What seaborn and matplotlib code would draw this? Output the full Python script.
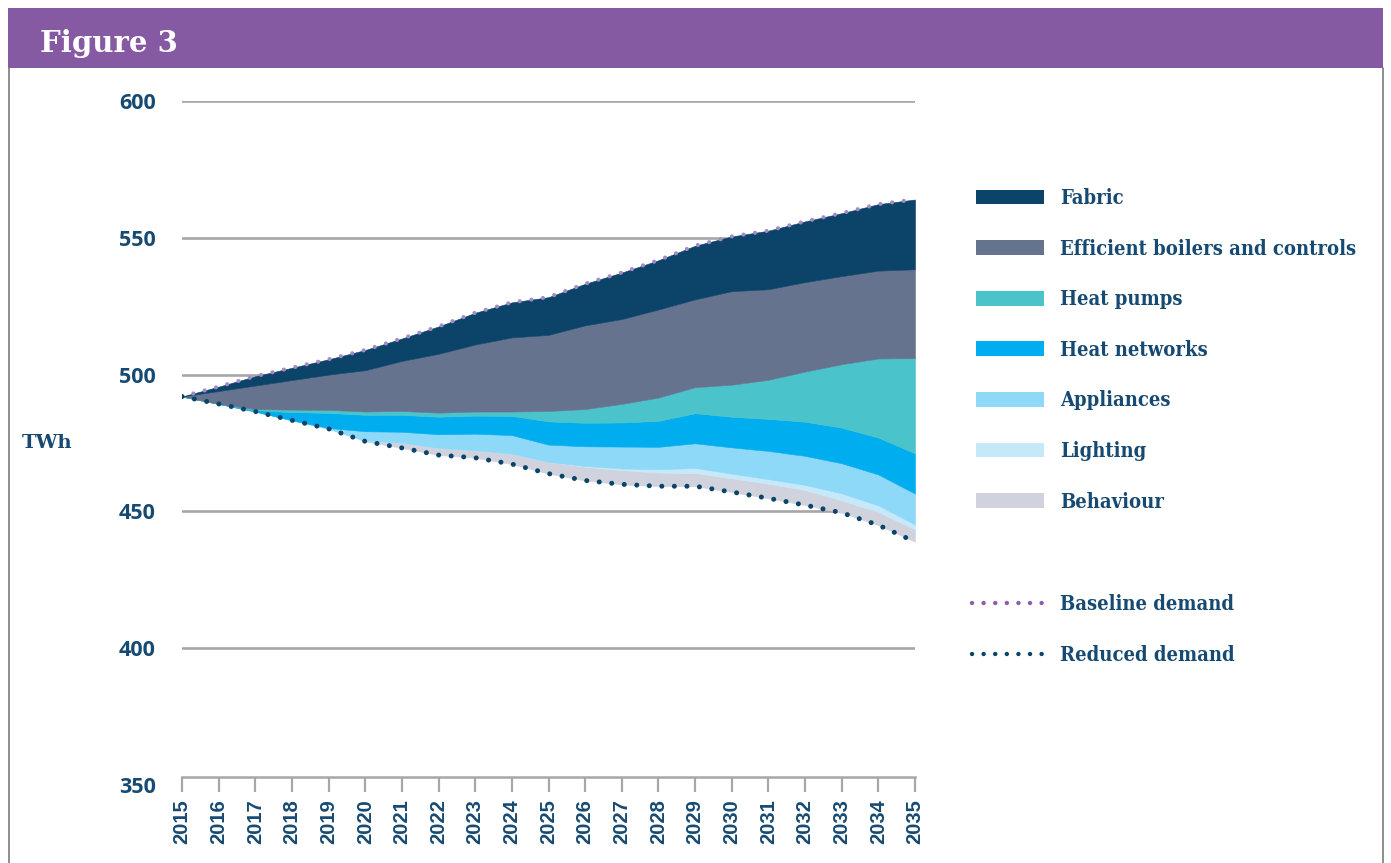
import matplotlib
matplotlib.use('Agg')
import matplotlib.pyplot as plt
import seaborn as sns
from matplotlib.patches import Patch, Rectangle
from matplotlib.lines import Line2D

# data (TWh)
years = list(range(2015, 2036))
baseline = [492.0, 495.6, 499.4, 502.5, 505.6, 509.0, 513.2, 517.6, 522.6, 526.4, 528.3,
            533.2, 537.3, 541.8, 547.1, 550.5, 552.6, 556.0, 559.0, 562.3, 564.0]
reduced = [492.0, 489.3, 486.5, 483.3, 480.2, 475.6, 473.2, 470.6, 469.6, 467.3, 463.8,
           461.3, 459.9, 459.2, 459.2, 457.1, 454.8, 452.3, 449.5, 445.0, 438.9]

# savings per measure, stacked upward from reduced demand
behaviour = [0, 0, 0, 0, 0, 0.3, 1.9, 2.6, 2.8, 3.8, 4.3, 5.0, 5.2, 5.0, 4.8, 5.0, 5.3, 5.5, 4.5, 4.8, 4.5]
lighting = [0, 0, 0, 0, 0, 0, 0, 0, 0, 0, 0, 0.3, 0.6, 1.2, 1.9, 1.7, 1.7, 1.9, 2.6, 2.4, 1.8]
appliances = [0, 0, 0, 0, 0.3, 3.4, 4.0, 5.0, 6.0, 6.8, 6.3, 7.2, 8.0, 8.2, 9.0, 9.6, 10.3, 10.6, 11.0, 11.3, 11.3]
heat_networks = [0, 0, 0.5, 3.0, 5.5, 6.0, 6.2, 6.4, 6.6, 7.0, 8.5, 8.6, 8.8, 9.5, 11.0, 11.2, 11.7, 12.5, 13.0, 13.5, 14.7]
heat_pumps = [0, 0, 0.4, 0.9, 1.1, 1.2, 1.4, 1.5, 1.5, 1.6, 3.8, 5.0, 6.8, 8.5, 9.5, 11.7, 14.3, 18.3, 23.2, 28.9, 34.8]
boilers = [0, 4.7, 8.6, 10.8, 12.9, 15.1, 18.3, 21.5, 24.5, 27.1, 27.8, 30.6, 31.0, 32.2, 32.1, 34.2, 33.1, 32.7, 32.2, 32.1, 32.5]
fabric = [0, 1.6, 3.4, 4.5, 5.6, 7.4, 8.2, 10.0, 11.6, 12.8, 13.8, 15.2, 17.0, 18.0, 19.6, 20.0, 21.4, 22.2, 23.0, 24.3, 25.5]

area_labels = ['Fabric', 'Efficient boilers and controls', 'Heat pumps', 'Heat networks',
               'Appliances', 'Lighting', 'Behaviour']
area_colors = ['#0b4369', '#66738f', '#4bc3cb', '#00adee', '#8ed8f8', '#c6e9f9', '#d0d2de']

navy = '#0b4369'
text_col = '#174a72'
grid_col = '#a7a7a9'
W, H = 1391, 863

sns.set_theme(style='white')
plt.rcParams['font.family'] = ['DejaVu Serif']

fig = plt.figure(figsize=(W / 100, H / 100), dpi=100)
ax = fig.add_axes([182 / W, 1 - 785 / H, (915 - 182) / W, (785 - 101) / H])

# stacked areas (bottom layer is the reduced demand, left unfilled)
layers = [reduced, behaviour, lighting, appliances, heat_networks, heat_pumps, boilers, fabric]
fills = ['none'] + area_colors[::-1]
polys = ax.stackplot(years, *layers, colors=fills, linewidth=0, zorder=2)
for p, c in zip(polys[1:], fills[1:]):
    p.set_edgecolor(c)
    p.set_linewidth(0.4)

sns.lineplot(x=years, y=baseline, ax=ax, color='#a48ac6', linewidth=3.0,
             linestyle=(0, (0.01, 2.8)), dash_capstyle='round', zorder=5)
sns.lineplot(x=years, y=reduced, ax=ax, color=navy, linewidth=3.6,
             linestyle=(0, (0.01, 2.5)), dash_capstyle='round', zorder=5)

for yv in [400, 450, 500, 550, 600]:
    ax.axhline(yv, color=grid_col, lw=1.9, zorder=0)

# spine position first: moving it resets the tick labels
for s in ['top', 'right', 'left']:
    ax.spines[s].set_visible(False)
ax.spines['bottom'].set_position(('data', 353))
ax.spines['bottom'].set_color(grid_col)
ax.spines['bottom'].set_linewidth(1.8)

ax.set_xlim(2015, 2035)
ax.set_ylim(350, 600)
ax.set_xticks(years)
ax.set_xticklabels([str(y) for y in years], rotation=90, fontfamily='Liberation Sans',
                   fontweight='bold', fontsize=14.5, color=text_col)
ax.set_yticks([350, 400, 450, 500, 550, 600])
ax.set_yticklabels(['350', '400', '450', '500', '550', '600'], fontfamily='Open Sans',
                   fontweight='bold', fontsize=15.5, color=text_col)
ax.set_xlabel('')
ax.set_ylabel('')
ax.grid(False)
ax.tick_params(axis='x', length=11, width=1.6, color=grid_col, direction='out', pad=5, bottom=True)
ax.tick_params(axis='y', length=0, pad=19)

fig.text(22 / W, 1 - 443 / H, 'TWh', fontsize=14, fontweight='bold', color=text_col,
         va='center', ha='left')

# header band and frame
fig.add_artist(Rectangle((8 / W, 1 - 68 / H), 1375 / W, 60 / H, transform=fig.transFigure,
                         facecolor='#8659a3', edgecolor='none'))
fig.text(40 / W, 1 - 52 / H, 'Figure 3', color='white', fontsize=21, fontweight='bold',
         va='baseline', ha='left')
for xf in [9 / W, 1383 / W]:
    fig.add_artist(Line2D([xf, xf], [0, 1 - 68 / H], transform=fig.transFigure,
                          color='#7a7a7a', lw=1.2))

# legends
prop = dict(family='DejaVu Serif', weight='bold', size=14.5, stretch='condensed')
area_handles = [Patch(facecolor=c, edgecolor='none') for c in area_colors]
leg1 = fig.legend(area_handles, area_labels, loc='upper left', bbox_to_anchor=(976 / W, 1 - 188 / H),
                  frameon=False, borderpad=0, borderaxespad=0, handlelength=3.37, handleheight=0.75,
                  handletextpad=0.79, labelspacing=1.52, prop=prop, labelcolor=text_col)
line_handles = [Line2D([0], [0], color='#8c5faa', lw=3.2, linestyle=(0, (0.01, 2.6)), dash_capstyle='round'),
                Line2D([0], [0], color=navy, lw=3.2, linestyle=(0, (0.01, 2.6)), dash_capstyle='round')]
leg2 = fig.legend(line_handles, ['Baseline demand', 'Reduced demand'], loc='upper left',
                  bbox_to_anchor=(972 / W, 1 - 594 / H), frameon=False, borderpad=0, borderaxespad=0,
                  handlelength=3.57, handletextpad=0.79, labelspacing=1.52, prop=prop, labelcolor=text_col)

fig.savefig('out.png', dpi=100)
